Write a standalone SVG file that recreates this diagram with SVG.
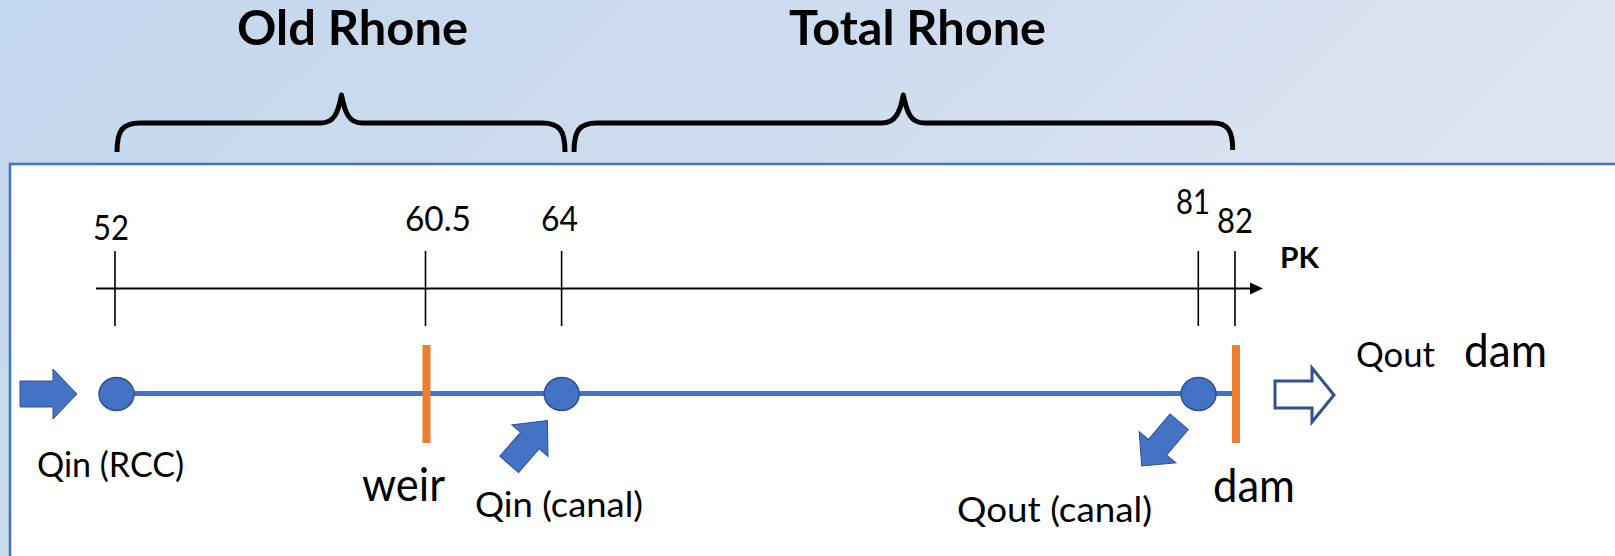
<svg xmlns="http://www.w3.org/2000/svg" width="1615" height="556" viewBox="0 0 1615 556">
<defs>
<linearGradient id="bg" x1="0" y1="0" x2="1" y2="0.35">
<stop offset="0" stop-color="#c3d7ee"/>
<stop offset="0.5" stop-color="#cfdcef"/>
<stop offset="1" stop-color="#dfe6f2"/>
</linearGradient>
<style>
text{font-family:Lato,"Liberation Sans",sans-serif;fill:#000}
.title{font-weight:bold;font-size:48px}
.num{font-size:35px}
.lbl{font-size:34px}
.big{font-size:46px}
.brace{fill:none;stroke:#000;stroke-width:5;stroke-linecap:butt;stroke-linejoin:round}
.tick{stroke:#000;stroke-width:1.6}
.node{fill:#4472c4;stroke:#2f528f;stroke-width:1.5}
.bar{fill:#ed7d31}
.flow{fill:#4472c4;stroke:#2f528f;stroke-width:1}
</style>
</defs>
<rect x="0" y="0" width="1615" height="556" fill="url(#bg)"/>
<rect x="10" y="164" width="1620" height="420" fill="#fff" stroke="#4472c4" stroke-width="2.5"/>

<g id="brace-old">
<path class="brace" d="M117,152 C117,131 122,123 140,123 L321,123 C334,123 338,113 341.5,95 C345,113 349,123 362,123 L542,123 C560,123 565,131 565,152"/>
<text class="title" x="237" y="45" textLength="231" lengthAdjust="spacingAndGlyphs">Old Rhone</text>
</g>
<g id="brace-total">
<path class="brace" d="M574,152 C574,131 579,123 597,123 L882,123 C895,123 900,113 903.3,95 C907,113 911,123 924,123 L1213,123 C1228,123 1232.7,131 1232.7,150"/>
<text class="title" x="789" y="45" textLength="257" lengthAdjust="spacingAndGlyphs">Total Rhone</text>
</g>

<g id="axis">
<line x1="96" y1="288.5" x2="1252" y2="288.5" stroke="#000" stroke-width="2"/>
<polygon points="1263,288.5 1250,282.5 1250,294.5" fill="#000"/>
<line class="tick" x1="115" y1="251" x2="115" y2="326"/>
<line class="tick" x1="425.5" y1="251" x2="425.5" y2="326"/>
<line class="tick" x1="561.6" y1="251" x2="561.6" y2="326"/>
<line class="tick" x1="1198.3" y1="251" x2="1198.3" y2="326"/>
<line class="tick" x1="1235" y1="251" x2="1235" y2="326"/>
<text class="num" x="93" y="240" textLength="36" lengthAdjust="spacingAndGlyphs">52</text>
<text class="num" x="405" y="231" textLength="66" lengthAdjust="spacingAndGlyphs">60.5</text>
<text class="num" x="541" y="231" textLength="37" lengthAdjust="spacingAndGlyphs">64</text>
<text class="num" x="1176" y="214" textLength="34" lengthAdjust="spacingAndGlyphs">81</text>
<text class="num" x="1217" y="233" textLength="36" lengthAdjust="spacingAndGlyphs">82</text>
<text x="1280" y="268" font-weight="bold" font-size="29" textLength="39" lengthAdjust="spacingAndGlyphs">PK</text>
</g>

<g id="connectors">
<line x1="116" y1="393.5" x2="1232" y2="393.5" stroke="#4472c4" stroke-width="5"/>
</g>

<g id="inflow-rcc">
<polygon class="flow" points="20,381 53,381 53,369 77,394 53,419 53,407 20,407"/>
<text class="lbl" x="37" y="477" textLength="147" lengthAdjust="spacingAndGlyphs">Qin (RCC)</text>
</g>
<g id="node-52">
<ellipse class="node" cx="116.5" cy="394" rx="17.5" ry="16.5"/>
</g>
<g id="weir">
<rect class="bar" x="422.5" y="345" width="8" height="98"/>
<text class="big" x="362" y="501" textLength="83" lengthAdjust="spacingAndGlyphs">weir</text>
</g>
<g id="node-64">
<ellipse class="node" cx="561.7" cy="394" rx="17.5" ry="16.5"/>
</g>
<g id="inflow-canal">
<polygon class="flow" transform="translate(509.2,464.3) rotate(-48.8)" points="0,-12.4 31.5,-12.4 31.5,-24 58,0 31.5,24 31.5,12.4 0,12.4"/>
<text class="lbl" x="475" y="517" textLength="168" lengthAdjust="spacingAndGlyphs">Qin (canal)</text>
</g>
<g id="node-81">
<ellipse class="node" cx="1198.5" cy="394" rx="17.5" ry="16.5"/>
</g>
<g id="outflow-canal">
<polygon class="flow" transform="translate(1179.2,421.7) rotate(130.3)" points="0,-12 33.5,-12 33.5,-24 58,0 33.5,24 33.5,12 0,12"/>
<text class="lbl" x="957" y="522" textLength="195" lengthAdjust="spacingAndGlyphs">Qout (canal)</text>
</g>
<g id="dam">
<rect class="bar" x="1232" y="345" width="8" height="98"/>
<text class="big" x="1213" y="502" textLength="82" lengthAdjust="spacingAndGlyphs">dam</text>
</g>
<g id="outflow-dam">
<polygon points="1275,381 1312,381 1312,368 1334,395 1312,422 1312,408 1275,408" fill="#fff" stroke="#2f528f" stroke-width="3" stroke-linejoin="miter"/>
<text class="lbl" x="1356" y="367" textLength="79" lengthAdjust="spacingAndGlyphs">Qout</text>
<text class="big" x="1464" y="367" textLength="83" lengthAdjust="spacingAndGlyphs">dam</text>
</g>
</svg>
